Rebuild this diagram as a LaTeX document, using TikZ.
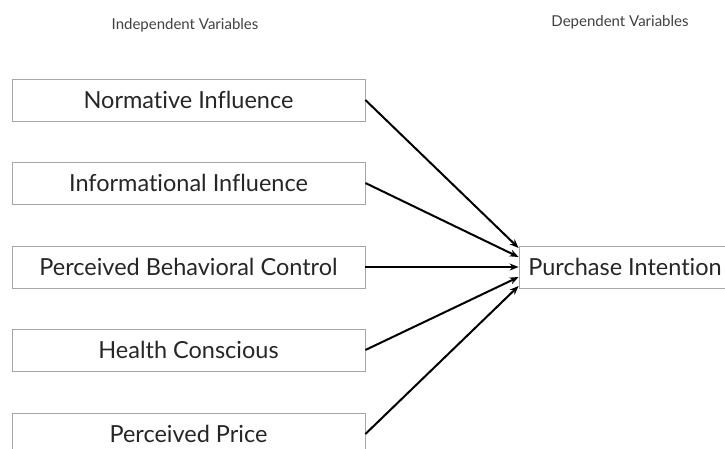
\documentclass[tikz,border=0pt]{standalone}
\usepackage{fontspec}
\setmainfont{Lato}[Ligatures=NoCommon]
\usetikzlibrary{arrows.meta}

\begin{document}
\begin{tikzpicture}[x=1pt,y=-1pt,
  var/.style={draw=gray!70, line width=0.8pt, minimum width=353pt, minimum height=42pt,
    inner sep=0pt, text=black!85, font=\fontsize{23.5}{27}\selectfont},
  head/.style={text=black!75, font=\fontsize{15}{18}\selectfont},
  link/.style={-{Stealth[length=9pt,width=7pt]}, line width=2pt}]

\useasboundingbox (0,0) rectangle (725,448);

\node[head] (indep) at (185,25) {Independent Variables};
\node[head] (dep) at (620,22) {Dependent Variables};

\node[var] (norm) at (188.5,100) {Normative Influence};
\node[var] (info) at (188.5,183) {Informational Influence};
\node[var] (pbc) at (188.5,267) {Perceived Behavioral Control};
\node[var] (health) at (188.5,350) {Health Conscious};
\node[var] (price) at (188.5,434) {Perceived Price};

\node[var, minimum width=212pt] (intent) at (625,267) {Purchase Intention};

\draw[link] (norm.east) -- ([yshift=19pt]intent.west);
\draw[link] (info.east) -- ([yshift=10pt]intent.west);
\draw[link] (pbc.east) -- (intent.west);
\draw[link] (health.east) -- ([yshift=-10pt]intent.west);
\draw[link] (price.east) -- ([yshift=-19pt]intent.west);
\end{tikzpicture}
\end{document}
